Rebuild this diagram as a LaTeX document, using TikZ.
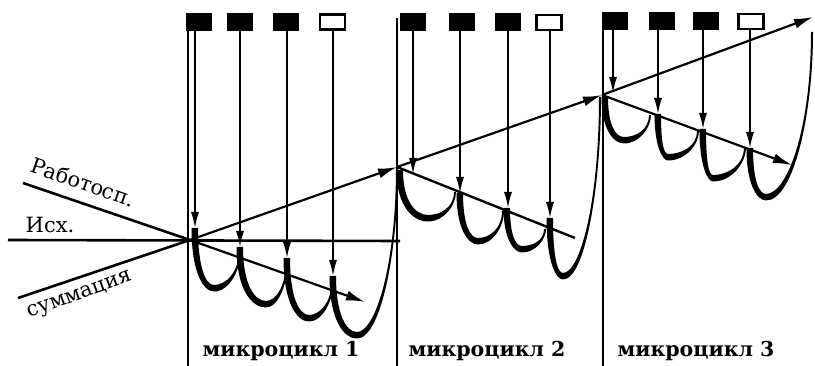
\documentclass[tikz,border=0pt]{standalone}
\usepackage{fontspec}
\setmainfont{DejaVu Serif}
\usetikzlibrary{arrows.meta}
\newcommand{\Ucrv}[6]{%
\fill (#1-3.5,#2) .. controls (#1-3.5,{#2+0.75*(#4-#2)}) and ({#3-0.55*(#3-#1)},#4+3.5) .. (#3,#4+3.5)
 .. controls ({#3+0.6*(#5-#3)},#4+3.5) and (#5+1,{#4-0.5*(#4-#6)}) .. (#5+1,#6)
 -- (#5-1,#6) .. controls (#5-1,{#4-0.4*(#4-#6)}) and ({#3+0.45*(#5-#3)},#4-3) .. (#3,#4-3)
 .. controls ({#3-0.45*(#3-#1)},#4-3) and (#1+3,{#2+0.65*(#4-#2)}) .. (#1+3,#2) -- cycle;}
\begin{document}
\begin{tikzpicture}[x=1pt,y=-1pt,
  blk/.style={fill=black,draw=black,line width=1pt,minimum width=25pt,minimum height=17pt,inner sep=0pt},
  wht/.style={fill=white,draw=black,line width=2.4pt,minimum width=25pt,minimum height=15pt,inner sep=0pt},
  varrow/.style={line width=1.6pt,-{Latex[length=16pt,width=8pt]}},
  divline/.style={line width=1.3pt},
  axisline/.style={line width=2.6pt},
  trend/.style={line width=2.4pt},
  tarrow/.style={line width=2.2pt,-{Latex[length=19pt,width=10pt]}},
  lbl/.style={font=\fontsize{21}{21}\selectfont,inner sep=0pt},
  mlbl/.style={font=\bfseries\fontsize{20.5}{20.5}\selectfont,inner sep=0pt}]
\useasboundingbox (0,0) rectangle (815,366);

% key points
\coordinate (O) at (190,240);
\coordinate (P2) at (397,167);
\coordinate (P3) at (602,95);
\coordinate (E) at (813,17);
\coordinate (RabS) at (23,183);
\coordinate (SumS) at (18,298);
\coordinate (IsxS) at (8,240);
\coordinate (IsxE) at (400,241);
\coordinate (D1) at (365,302);
\coordinate (D2) at (575,238);
\coordinate (D3) at (792,165);

% boxes
\node[blk] (a1) at (199,22) {};
\node[blk] (a2) at (240,22) {};
\node[blk] (a3) at (286,22) {};
\node[wht] (a4) at (332.5,22) {};
\node[blk] (b1) at (412.5,22.5) {};
\node[blk] (b2) at (462,22.5) {};
\node[blk] (b3) at (507.5,22.5) {};
\node[wht] (b4) at (549,22.5) {};
\node[blk] (c1) at (614.5,21.5) {};
\node[blk] (c2) at (661.5,21.5) {};
\node[blk] (c3) at (705.5,21.5) {};
\node[wht] (c4) at (751,21.5) {};

% dividers
\coordinate (v1t) at (188,30); \coordinate (v1b) at (188,366);
\coordinate (v2t) at (397,18); \coordinate (v2b) at (397,366);
\coordinate (v3t) at (603,30); \coordinate (v3b) at (603,366);
\draw[divline] (v1t) -- (v1b);
\draw[divline] (v2t) -- (v2b);
\draw[divline] (v3t) -- (v3b);

% arrow tips
\coordinate (t11) at (195,228);
\coordinate (t12) at (240,247);
\coordinate (t13) at (287,258);
\coordinate (t14) at (333,276);
\coordinate (t21) at (413,174);
\coordinate (t22) at (460,193);
\coordinate (t23) at (508,208);
\coordinate (t24) at (550,218);
\coordinate (t31) at (613,93);
\coordinate (t32) at (658,114);
\coordinate (t33) at (703,129);
\coordinate (t34) at (750,148);

\draw[varrow] (a1.south -| t11) -- (t11);
\draw[varrow] (a2.south -| t12) -- (t12);
\draw[varrow] (a3.south -| t13) -- (t13);
\draw[varrow] (a4.south -| t14) -- (t14);
\draw[varrow] (b1.south -| t21) -- (t21);
\draw[varrow] (b2.south -| t22) -- (t22);
\draw[varrow] (b3.south -| t23) -- (t23);
\draw[varrow] (b4.south -| t24) -- (t24);
\draw[varrow] (c1.south -| t31) -- (t31);
\draw[varrow] (c2.south -| t32) -- (t32);
\draw[varrow] (c3.south -| t33) -- (t33);
\draw[varrow] (c4.south -| t34) -- (t34);

% axes
\draw[axisline] (IsxS) -- (IsxE);
\draw[axisline] (RabS) -- (O);
\draw[axisline] (SumS) -- (O);

% rising trend
\draw[tarrow] (O) -- (P2);
\draw[tarrow] (P2) -- (P3);
\draw[tarrow] (P3) -- (E);

% descending lines
\draw[tarrow] (O) -- (D1);
\draw[trend] (P2) -- (D2);
\draw[tarrow] (P3) -- (D3);

% U curves
\Ucrv{195}{228}{214}{288}{240}{250}
\Ucrv{240}{247}{266}{304}{287}{261}
\Ucrv{287}{258}{309}{318}{333}{279}
\Ucrv{333}{276}{357}{335}{397}{167}
\Ucrv{400}{170}{428}{218}{455}{192}
\Ucrv{460}{193}{478}{241}{503}{211}
\Ucrv{507}{208}{522}{249}{545}{229}
\Ucrv{550}{218}{563}{276}{600}{97}
\Ucrv{605}{97}{624}{140}{650}{115}
\Ucrv{658}{114}{668}{157}{698}{131}
\Ucrv{703}{129}{713}{178}{745}{147}
\Ucrv{750}{148}{766}{197}{812}{32}

% labels
\node[lbl,rotate=-19.5] (rab) at (83,182) {Работосп.};
\node[lbl,anchor=base] (isx) at (50,233) {Исх.};
\node[lbl,rotate=20] (sum) at (80,296) {суммация};
\node[mlbl,anchor=base] (m1) at (281,357) {микроцикл 1};
\node[mlbl,anchor=base] (m2) at (487,357) {микроцикл 2};
\node[mlbl,anchor=base] (m3) at (696,357) {микроцикл 3};
\end{tikzpicture}
\end{document}
